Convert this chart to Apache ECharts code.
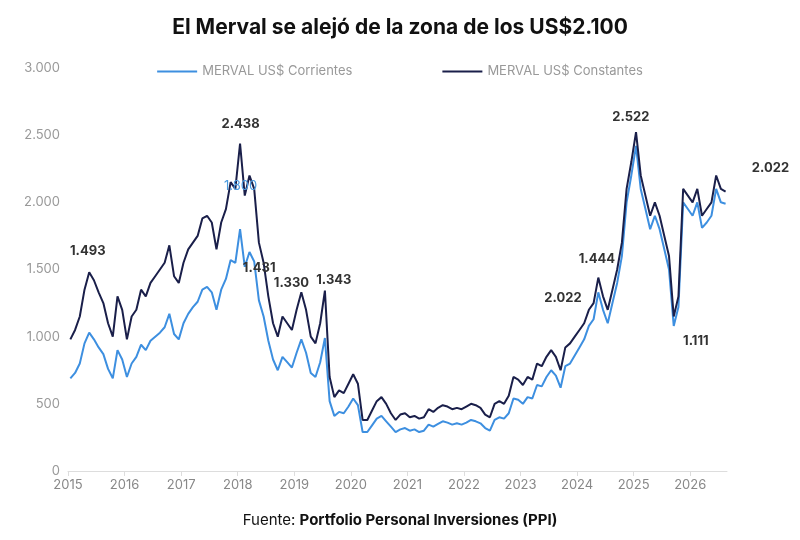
<!DOCTYPE html>
<html>
<head>
<meta charset="utf-8">
<script src="https://cdn.jsdelivr.net/npm/echarts@6/dist/echarts.min.js"></script>
<style>html,body{margin:0;background:#fff}#c{width:800px;height:540px}</style>
</head>
<body>
<div id="c"></div>
<script>
// primer año de la serie (valores mensuales, de enero en adelante)
const startYear = 2015

// MERVAL US$ Constantes
const constantes = [
  980, 1050, 1150, 1350, 1480, 1420, 1330, 1250, 1100, 1000, 1300, 1200,
  980, 1150, 1200, 1350, 1300, 1400, 1450, 1500, 1550, 1680, 1450, 1400,
  1550, 1650, 1700, 1750, 1880, 1900, 1850, 1650, 1850, 1950, 2150, 2100,
  2438, 2050, 2200, 2100, 1700, 1550, 1300, 1100, 1000, 1150, 1100, 1050,
  1200, 1330, 1200, 1000, 950, 1100, 1343, 700, 550, 600, 580, 650,
  720, 650, 380, 380, 450, 520, 550, 500, 430, 380, 420, 430,
  400, 410, 390, 400, 460, 440, 470, 490, 480, 460, 470, 460,
  480, 500, 490, 470, 420, 400, 500, 520, 500, 560, 700, 680,
  640, 700, 680, 800, 780, 850, 900, 850, 750, 920, 950, 1000,
  1050, 1100, 1200, 1250, 1440, 1300, 1200, 1350, 1500, 1700, 2100, 2300,
  2522, 2200, 2050, 1900, 2000, 1900, 1750, 1600, 1150, 1300, 2100, 2050,
  2000, 2100, 1900, 1950, 2000, 2200, 2100, 2080
]

// MERVAL US$ Corrientes
const corrientes = [
  690, 730, 800, 950, 1030, 980, 920, 870, 760, 690, 900, 830,
  700, 800, 850, 940, 900, 970, 1000, 1030, 1070, 1170, 1020, 980,
  1100, 1170, 1220, 1260, 1350, 1370, 1330, 1200, 1350, 1430, 1570, 1550,
  1800, 1520, 1630, 1560, 1270, 1150, 970, 830, 750, 850, 810, 770,
  880, 980, 880, 730, 700, 810, 990, 520, 410, 440, 430, 480,
  540, 490, 290, 290, 340, 390, 410, 370, 330, 290, 310, 320,
  300, 310, 290, 300, 345, 330, 350, 370, 360, 345, 355, 345,
  360, 380, 370, 355, 320, 300, 380, 400, 390, 430, 540, 530,
  500, 550, 540, 640, 630, 700, 750, 710, 620, 780, 800, 860,
  920, 980, 1080, 1130, 1330, 1200, 1100, 1250, 1400, 1600, 2000, 2200,
  2420, 2100, 1950, 1800, 1900, 1800, 1650, 1500, 1080, 1220, 2000, 1950,
  1900, 2000, 1810, 1850, 1900, 2100, 2000, 1990
]

// etiquetas: [texto, año decimal, valor]
const etiquetas = [
  ['1.493', 2015.35, 1640],
  ['2.438', 2018.05, 2580],
  ['1.431', 2018.38, 1510],
  ['1.330', 2018.95, 1400],
  ['1.343', 2019.7, 1420],
  ['2.022', 2023.75, 1290],
  ['1.444', 2024.35, 1580],
  ['2.522', 2024.95, 2635],
  ['1.111', 2026.1, 970],
  ['2.022', 2026.5, 2080]
]
const etiquetaAzul = ['1.800', 2018.05, 2120]

const fechas = constantes.map((v, i) => startYear + i / 12 + 1 / 24)
const fmt = v => String(v).replace(/\B(?=(\d{3})+(?!\d))/g, '.')

const chart = echarts.init(document.getElementById('c'))
chart.setOption({
  animation: false,
  textStyle: { fontFamily: 'Inter, Roboto, sans-serif' },
  title: [{
    text: 'El Merval se alejó de la zona de los US$2.100',
    left: 'center', top: 12,
    textStyle: { fontSize: 21, fontWeight: 'bold', color: '#111' }
  }, {
    text: '{a|Fuente: }{b|Portfolio Personal Inversiones (PPI)}',
    left: 'center', top: 508,
    textStyle: { rich: {
      a: { fontSize: 15, fontWeight: 'normal', color: '#111' },
      b: { fontSize: 15, fontWeight: 'bold', color: '#111' }
    } }
  }],
  legend: {
    top: 60, left: 'center', itemGap: 90, itemWidth: 40, itemHeight: 2,
    icon: 'rect',
    textStyle: { color: '#999', fontSize: 13 },
    data: ['MERVAL US$ Corrientes', 'MERVAL US$ Constantes']
  },
  grid: { left: 68, right: 73, top: 68, bottom: 69 },
  xAxis: {
    type: 'value', min: 2015, max: 2026.65, interval: 1,
    axisLine: { lineStyle: { color: '#ddd' } },
    axisTick: { show: true, lineStyle: { color: '#ddd' } },
    splitLine: { show: false },
    axisLabel: { color: '#888', fontSize: 13, showMaxLabel: false, formatter: v => String(v) }
  },
  yAxis: {
    type: 'value', min: 0, max: 3000, interval: 500,
    axisLine: { show: false }, axisTick: { show: false }, splitLine: { show: false },
    axisLabel: { color: '#999', fontSize: 13, formatter: fmt }
  },
  series: [{
    name: 'MERVAL US$ Corrientes', type: 'line', showSymbol: false,
    color: '#3d8fe0', lineStyle: { width: 2 },
    data: corrientes.map((v, i) => [fechas[i], v]),
    markPoint: {
      symbol: 'circle', symbolSize: 1, itemStyle: { color: 'rgba(0,0,0,0)' },
      data: [{ coord: [etiquetaAzul[1], etiquetaAzul[2]], value: etiquetaAzul[0] }],
      label: { show: true, position: 'inside', color: '#4a9be0', fontSize: 13, formatter: p => p.value }
    }
  }, {
    name: 'MERVAL US$ Constantes', type: 'line', showSymbol: false,
    color: '#1a1f4a', lineStyle: { width: 2 },
    data: constantes.map((v, i) => [fechas[i], v]),
    markPoint: {
      symbol: 'circle', symbolSize: 1, itemStyle: { color: 'rgba(0,0,0,0)' },
      label: { show: true, position: 'inside', color: '#333', fontSize: 13, fontWeight: 'bold', formatter: p => p.value },
      data: etiquetas.map((e, i) => {
        const d = { coord: [e[1], e[2]], value: e[0] }
        if (i === etiquetas.length - 1) d.label = { offset: [52, -23] }
        return d
      })
    }
  }]
})
</script>
</body>
</html>
